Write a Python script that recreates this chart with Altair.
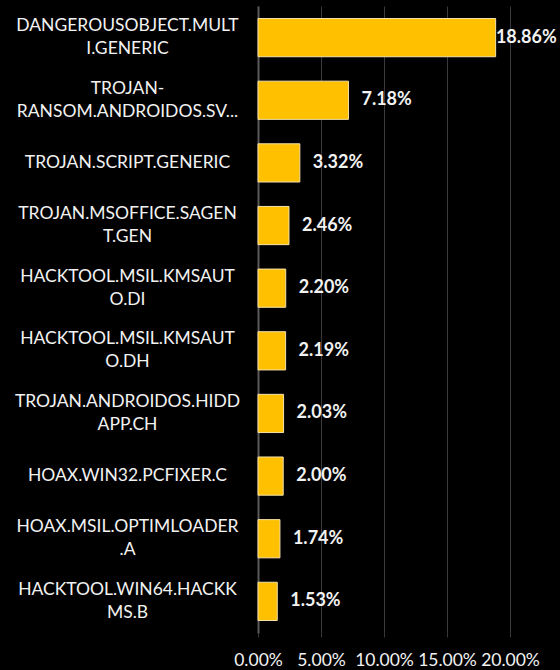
import altair as alt
import pandas as pd

categories = [
    "DANGEROUSOBJECT.MULT|I.GENERIC",
    "TROJAN-|RANSOM.ANDROIDOS.SV...",
    "TROJAN.SCRIPT.GENERIC",
    "TROJAN.MSOFFICE.SAGEN|T.GEN",
    "HACKTOOL.MSIL.KMSAUT|O.DI",
    "HACKTOOL.MSIL.KMSAUT|O.DH",
    "TROJAN.ANDROIDOS.HIDD|APP.CH",
    "HOAX.WIN32.PCFIXER.C",
    "HOAX.MSIL.OPTIMLOADER|.A",
    "HACKTOOL.WIN64.HACKK|MS.B",
]
values = [0.1886, 0.0718, 0.0332, 0.0246, 0.0220, 0.0219, 0.0203, 0.0200, 0.0174, 0.0153]
x_ticks = [0.0, 0.05, 0.10, 0.15, 0.20]

df = pd.DataFrame({"cat": categories, "value": values})

FONT = "Lato"

y_enc = alt.Y(
    "cat:N",
    sort=None,
    title=None,
    scale=alt.Scale(paddingInner=0.39, paddingOuter=0.2),
    axis=alt.Axis(
        labelExpr="split(datum.label, '|')",
        labelAlign="center",
        labelBaseline="middle",
        labelPadding=131,
        labelLimit=300,
        labelFontSize=17.5,
        labelLineHeight=23,
        labelColor="#F2F2F2",
        labelFont=FONT,
        labelOffset={
            "condition": {"test": "indexof(datum.value, '|') >= 0", "value": -11.5},
            "value": 0,
        },
        ticks=False,
        domain=True,
        domainColor="#5a5a5a",
        domainWidth=2,
        grid=False,
    ),
)

x_enc = alt.X(
    "value:Q",
    title=None,
    scale=alt.Scale(domain=[0, 0.2], nice=False),
    axis=alt.Axis(
        values=x_ticks,
        format=".2%",
        labelFontSize=17.5,
        labelColor="#F2F2F2",
        labelFont=FONT,
        labelPadding=14,
        ticks=True,
        tickSize=4,
        tickColor="#3a3a3a",
        domain=False,
        grid=True,
        gridColor="#3a3a3a",
        gridWidth=1,
        labelFlush=False,
        labelOverlap=False,
    ),
)

bars = alt.Chart(df).mark_bar(
    color="#FFC000", stroke="#F5E2A8", strokeWidth=1
).encode(x=x_enc, y=y_enc)

labels = alt.Chart(df).transform_calculate(
    pos="min(datum.value, 0.1785)"
).mark_text(
    align="left", baseline="middle", dx=13, fontSize=18, fontWeight="bold",
    color="#F2F2F2", font=FONT
).encode(
    x=alt.X("pos:Q"),
    y=alt.Y("cat:N", sort=None),
    text=alt.Text("value:Q", format=".2%"),
)

chart = (bars + labels).properties(
    width=252,
    height=627,
    background="#000000",
    padding={"left": 258, "top": 6, "right": 50, "bottom": 37},
    autosize=alt.AutoSizeParams(type="none"),
).configure_view(stroke=None)

chart.save("out.html", embed_options={"renderer": "svg", "actions": False})
